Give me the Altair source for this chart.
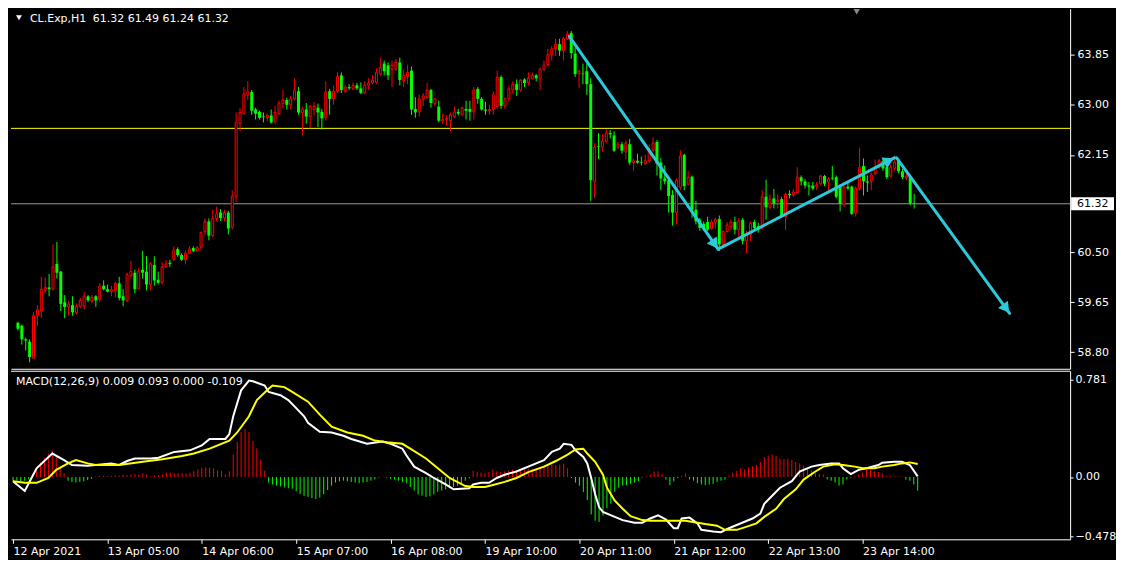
import math
import altair as alt
import pandas as pd

# ---------------- text ----------------
symbol_label = "CL.Exp,H1"
ohlc_label = "61.32 61.49 61.24 61.32"
macd_label = "MACD(12,26,9) 0.009 0.093 0.000 -0.109"
time_labels = ["12 Apr 2021", "13 Apr 05:00", "14 Apr 06:00", "15 Apr 07:00", "16 Apr 08:00",
               "19 Apr 10:00", "20 Apr 11:00", "21 Apr 12:00", "22 Apr 13:00", "23 Apr 14:00"]
time_label_bars = [0, 24, 48, 72, 96, 120, 144, 168, 192, 216]
price_ticks = [58.80, 59.65, 60.50, 62.15, 63.00, 63.85]
macd_ticks = [0.781, 0.0, -0.478]
level_yellow = 62.60
bid_price = 61.32

# ---------------- H1 candles ----------------
opens = [
    59.30, 59.25, 59.02, 58.98, 58.70, 59.42, 59.50, 59.85, 59.90, 59.87,
    60.30, 60.17, 59.65, 59.57, 59.60, 59.47, 59.58, 59.58, 59.75, 59.67,
    59.75, 59.70, 59.93, 59.87, 59.83, 59.85, 59.97, 59.75, 59.67, 60.10,
    60.15, 59.88, 60.20, 60.17, 59.95, 60.28, 60.03, 59.98, 60.25, 60.32,
    60.37, 60.55, 60.45, 60.37, 60.48, 60.57, 60.52, 60.58, 60.85, 61.02,
    60.78, 61.07, 61.17, 61.08, 61.17, 60.92, 61.45, 62.68, 62.85, 63.17,
    63.22, 62.92, 62.88, 62.80, 62.78, 62.82, 62.72, 62.85, 63.02, 63.08,
    63.00, 63.10, 63.23, 62.87, 62.92, 62.80, 62.92, 62.95, 62.88, 62.78,
    63.23, 63.10, 63.23, 63.50, 63.23, 63.30, 63.27, 63.33, 63.28, 63.20,
    63.33, 63.37, 63.38, 63.52, 63.70, 63.67, 63.60, 63.60, 63.72, 63.40,
    63.48, 63.58, 62.93, 62.88, 63.10, 63.12, 63.25, 63.02, 62.97, 62.73,
    62.75, 62.73, 62.80, 62.88, 62.83, 62.93, 62.93, 62.88, 63.27, 63.10,
    62.92, 62.90, 62.92, 62.97, 63.47, 62.98, 63.10, 63.25, 63.35, 63.25,
    63.43, 63.38, 63.45, 63.50, 63.45, 63.60, 63.68, 63.85, 63.95, 64.03,
    63.92, 64.12, 64.22, 63.87, 63.53, 63.53, 63.57, 63.35, 61.70, 62.30,
    62.28, 62.38, 62.52, 62.48, 62.28, 62.33, 62.20, 62.33, 62.02, 62.05,
    62.03, 62.00, 62.05, 62.23, 62.37, 62.02, 61.75, 61.72, 61.47, 61.17,
    61.60, 62.15, 61.65, 61.78, 61.22, 61.05, 60.98, 61.01, 60.90, 61.01,
    61.06, 60.63, 60.85, 60.93, 61.01, 60.88, 61.05, 60.69, 60.80, 61.01,
    60.94, 60.91, 61.44, 61.26, 61.41, 61.36, 61.40, 61.10, 61.49, 61.47,
    61.51, 61.77, 61.70, 61.63, 61.63, 61.61, 61.66, 61.79, 61.69, 61.76,
    61.77, 61.60, 61.30, 61.61, 61.61, 61.16, 61.58, 61.96, 61.70, 61.70,
    61.83, 61.94, 62.04, 61.94, 61.79, 61.92, 62.05, 61.87, 61.76, 61.77,
    61.32]
highs = [
    59.32, 59.27, 59.05, 59.02, 59.48, 59.60, 60.08, 60.07, 60.13, 60.63,
    60.67, 60.18, 59.77, 59.67, 59.75, 59.63, 59.72, 59.82, 59.77, 59.77,
    59.77, 59.97, 60.02, 59.95, 59.93, 60.00, 60.08, 59.87, 60.15, 60.35,
    60.20, 60.23, 60.52, 60.43, 60.33, 60.43, 60.17, 60.33, 60.37, 60.37,
    60.60, 60.58, 60.48, 60.53, 60.60, 60.60, 60.60, 60.85, 61.07, 61.07,
    61.22, 61.27, 61.23, 61.22, 61.20, 61.55, 62.87, 62.95, 63.30, 63.40,
    63.25, 62.95, 62.90, 62.87, 62.85, 62.92, 62.98, 63.07, 63.25, 63.12,
    63.15, 63.45, 63.30, 62.97, 63.03, 63.00, 63.05, 63.02, 62.93, 63.40,
    63.27, 63.33, 63.55, 63.55, 63.33, 63.35, 63.38, 63.37, 63.38, 63.40,
    63.45, 63.50, 63.62, 63.80, 63.75, 63.72, 63.75, 63.78, 63.80, 63.60,
    63.68, 63.65, 63.13, 63.17, 63.20, 63.37, 63.27, 63.12, 63.07, 62.85,
    62.82, 62.87, 62.97, 62.93, 62.97, 63.07, 63.07, 63.30, 63.30, 63.13,
    63.05, 63.00, 63.23, 63.58, 63.50, 63.13, 63.32, 63.40, 63.43, 63.43,
    63.45, 63.55, 63.55, 63.52, 63.63, 63.75, 63.95, 64.00, 64.12, 64.12,
    64.15, 64.25, 64.25, 63.97, 63.60, 63.70, 63.70, 63.45, 62.35, 62.52,
    62.50, 62.58, 62.57, 62.55, 62.37, 62.37, 62.40, 62.42, 62.08, 62.17,
    62.12, 62.15, 62.33, 62.45, 62.40, 62.10, 61.97, 61.80, 61.55, 61.75,
    62.23, 62.17, 61.88, 61.80, 61.37, 61.08, 61.02, 61.10, 61.05, 61.08,
    61.12, 60.87, 61.01, 61.05, 61.10, 61.08, 61.08, 60.86, 61.02, 61.05,
    61.00, 61.55, 61.73, 61.48, 61.57, 61.48, 61.44, 61.51, 61.55, 61.57,
    61.94, 61.80, 61.74, 61.69, 61.69, 61.69, 61.81, 61.81, 61.77, 61.96,
    61.80, 61.65, 61.63, 61.69, 61.63, 61.61, 62.27, 62.09, 61.80, 61.85,
    62.07, 62.08, 62.09, 61.97, 62.00, 62.14, 62.08, 61.91, 61.83, 61.80,
    61.49]
lows = [
    59.17, 58.93, 58.83, 58.63, 58.68, 59.25, 59.38, 59.80, 59.75, 59.85,
    60.05, 59.50, 59.38, 59.42, 59.42, 59.44, 59.55, 59.52, 59.65, 59.63,
    59.57, 59.65, 59.85, 59.82, 59.75, 59.73, 59.68, 59.58, 59.65, 60.05,
    59.80, 59.87, 60.05, 59.85, 59.85, 59.93, 59.95, 59.95, 60.23, 60.25,
    60.35, 60.42, 60.35, 60.30, 60.47, 60.50, 60.51, 60.53, 60.78, 60.70,
    60.75, 61.02, 61.03, 61.02, 60.80, 60.88, 61.35, 62.55, 62.83, 63.08,
    62.83, 62.75, 62.75, 62.70, 62.72, 62.68, 62.67, 62.83, 62.95, 62.92,
    62.92, 63.08, 62.83, 62.48, 62.68, 62.60, 62.82, 62.62, 62.58, 62.73,
    62.83, 63.00, 63.20, 63.20, 63.20, 63.25, 63.25, 63.25, 63.18, 63.18,
    63.25, 63.35, 63.35, 63.50, 63.50, 63.42, 63.30, 63.58, 63.33, 63.30,
    63.35, 62.83, 62.78, 62.80, 62.98, 63.10, 62.95, 62.98, 62.70, 62.68,
    62.65, 62.55, 62.78, 62.82, 62.82, 62.75, 62.73, 62.75, 63.02, 62.90,
    62.83, 62.83, 62.83, 62.93, 62.93, 62.93, 63.05, 63.20, 63.15, 63.22,
    63.30, 63.33, 63.43, 63.40, 63.25, 63.57, 63.65, 63.75, 63.83, 63.83,
    63.75, 64.10, 63.78, 63.47, 63.28, 63.35, 63.17, 61.37, 61.42, 62.08,
    62.20, 62.35, 62.43, 62.20, 62.25, 62.17, 62.08, 61.98, 61.88, 62.00,
    61.97, 61.98, 62.02, 62.20, 61.80, 61.55, 61.65, 61.17, 60.95, 60.97,
    61.55, 61.55, 61.63, 61.08, 60.97, 60.86, 60.86, 60.86, 60.88, 60.90,
    60.52, 60.61, 60.83, 60.88, 60.80, 60.75, 60.63, 60.48, 60.69, 60.86,
    60.83, 60.88, 61.05, 61.22, 61.24, 61.24, 61.08, 60.88, 61.41, 61.44,
    61.49, 61.63, 61.58, 61.46, 61.55, 61.55, 61.64, 61.62, 61.53, 61.72,
    61.41, 61.19, 61.27, 61.55, 61.13, 61.10, 61.55, 61.46, 61.52, 61.55,
    61.81, 61.91, 61.88, 61.74, 61.77, 61.88, 61.84, 61.74, 61.72, 61.29,
    61.24]
closes = [
    59.20, 59.02, 59.00, 58.72, 59.42, 59.52, 59.87, 59.90, 59.87, 60.25,
    60.15, 59.62, 59.57, 59.62, 59.48, 59.58, 59.68, 59.75, 59.68, 59.73,
    59.68, 59.92, 59.87, 59.83, 59.86, 59.97, 59.72, 59.68, 60.12, 60.17,
    59.87, 60.18, 60.15, 59.95, 60.30, 60.02, 59.98, 60.25, 60.30, 60.30,
    60.53, 60.45, 60.37, 60.48, 60.55, 60.52, 60.58, 60.83, 61.02, 60.78,
    61.07, 61.15, 61.08, 61.17, 60.90, 61.45, 62.70, 62.87, 63.18, 63.22,
    62.90, 62.85, 62.78, 62.79, 62.82, 62.70, 62.87, 63.03, 63.08, 63.00,
    63.10, 63.25, 62.87, 62.92, 62.80, 62.97, 62.97, 62.87, 62.77, 63.22,
    63.10, 63.23, 63.48, 63.25, 63.30, 63.28, 63.33, 63.28, 63.20, 63.33,
    63.37, 63.42, 63.55, 63.63, 63.57, 63.50, 63.67, 63.72, 63.42, 63.50,
    63.55, 62.92, 62.87, 63.10, 63.15, 63.25, 63.03, 63.10, 62.73, 62.75,
    62.77, 62.83, 62.88, 62.85, 62.95, 62.90, 62.88, 63.25, 63.10, 62.92,
    62.90, 62.92, 63.17, 63.47, 62.98, 63.10, 63.27, 63.35, 63.25, 63.42,
    63.37, 63.45, 63.50, 63.45, 63.60, 63.67, 63.85, 63.95, 64.03, 63.92,
    64.12, 64.20, 63.88, 63.52, 63.57, 63.52, 63.35, 61.72, 62.28, 62.29,
    62.38, 62.52, 62.50, 62.22, 62.33, 62.22, 62.35, 62.02, 62.05, 62.02,
    62.02, 62.05, 62.23, 62.35, 62.00, 61.75, 61.70, 61.45, 61.17, 61.72,
    62.13, 61.62, 61.77, 61.22, 61.02, 60.91, 60.90, 60.88, 61.01, 61.05,
    60.63, 60.85, 60.96, 61.01, 60.88, 61.03, 60.69, 60.80, 60.99, 60.91,
    60.88, 61.44, 61.26, 61.40, 61.33, 61.38, 61.10, 61.48, 61.47, 61.52,
    61.77, 61.70, 61.63, 61.61, 61.58, 61.64, 61.79, 61.66, 61.74, 61.75,
    61.44, 61.32, 61.60, 61.58, 61.15, 61.58, 61.94, 61.70, 61.68, 61.81,
    61.91, 62.05, 61.92, 61.77, 61.94, 62.03, 61.87, 61.77, 61.79, 61.33,
    61.32]

# ---------------- MACD(12,26,9) ----------------
macd_bar = [0, 3, 6, 10, 13, 15, 19, 25, 27, 29, 31, 35, 37, 41, 45, 48, 50, 54, 55, 56,
            58, 60, 61, 64, 65, 68, 70, 72, 74, 75, 78, 81, 84, 86, 90, 94, 96, 99, 100, 102,
            105, 107, 110, 112, 115, 116, 117, 119, 121, 123, 125, 128, 131, 135, 137, 139, 140, 142, 143, 145,
            146, 147, 148, 149, 150, 153, 155, 158, 160, 162, 164, 166, 168, 169, 170, 172, 174, 175, 178, 180,
            182, 184, 186, 188, 190, 191, 193, 195, 198, 200, 203, 205, 208, 210, 211, 213, 215, 217, 220, 221,
            224, 226, 228, 230]
macd_val = [-0.034, -0.112, 0.070, 0.188, 0.135, 0.096, 0.091, 0.109, 0.096, 0.128, 0.148, 0.148, 0.154, 0.201, 0.214, 0.253, 0.305, 0.305, 0.344, 0.487,
            0.695, 0.773, 0.768, 0.734, 0.682, 0.656, 0.617, 0.552, 0.487, 0.435, 0.362, 0.357, 0.331, 0.305, 0.266, 0.284, 0.266, 0.227, 0.174, 0.083,
            0.031, -0.008, -0.060, -0.099, -0.092, -0.091, -0.060, -0.047, -0.047, -0.008, 0.018, 0.044, 0.083, 0.135, 0.201, 0.227, 0.266, 0.258, 0.214, 0.161,
            0.109, -0.008, -0.138, -0.242, -0.281, -0.320, -0.346, -0.367, -0.367, -0.333, -0.307, -0.341, -0.411, -0.411, -0.333, -0.326, -0.372, -0.424, -0.438, -0.443,
            -0.411, -0.385, -0.359, -0.333, -0.294, -0.216, -0.151, -0.086, -0.034, 0.044, 0.083, 0.096, 0.109, 0.109, 0.070, 0.023, 0.057, 0.070, 0.096, 0.115,
            0.122, 0.122, 0.096, 0.005]
signal_bar = [0, 3, 6, 9, 11, 14, 16, 19, 21, 27, 33, 38, 43, 46, 50, 55, 57, 60, 62, 65,
              66, 69, 71, 75, 78, 81, 85, 89, 92, 95, 99, 101, 105, 108, 111, 115, 117, 120, 122, 125,
              128, 131, 135, 138, 141, 143, 145, 146, 148, 150, 151, 153, 155, 157, 160, 162, 165, 169, 171, 174,
              176, 179, 181, 184, 186, 189, 191, 194, 196, 199, 201, 204, 206, 209, 211, 214, 216, 219, 221, 224,
              226, 228, 230]
signal_val = [-0.034, -0.047, -0.047, -0.008, 0.057, 0.109, 0.135, 0.109, 0.096, 0.096, 0.122, 0.143, 0.169, 0.188, 0.227, 0.292, 0.357, 0.487, 0.617, 0.708,
              0.734, 0.721, 0.682, 0.604, 0.500, 0.404, 0.357, 0.331, 0.292, 0.279, 0.266, 0.227, 0.148, 0.070, -0.008, -0.073, -0.081, -0.081, -0.065, -0.039,
              -0.008, 0.039, 0.083, 0.128, 0.180, 0.221, 0.227, 0.188, 0.122, 0.018, -0.086, -0.190, -0.255, -0.315, -0.346, -0.352, -0.352, -0.352, -0.352, -0.367,
              -0.378, -0.391, -0.424, -0.424, -0.404, -0.372, -0.320, -0.255, -0.177, -0.099, -0.021, 0.044, 0.083, 0.102, 0.096, 0.083, 0.070, 0.070, 0.083, 0.096,
              0.109, 0.117, 0.104]
histogram = [
    -0.030, -0.030, -0.035, -0.030, -0.020, 0.020, 0.070, 0.115, 0.154, 0.188,
    0.213, 0.160, 0.070, 0.030, -0.030, -0.040, -0.045, -0.040, -0.035, -0.025,
    -0.015, 0.005, 0.008, 0.010, 0.008, 0.010, 0.012, 0.010, 0.020, 0.015,
    0.020, 0.025, 0.020, 0.030, 0.020, 0.005, 0.010, 0.015, 0.020, 0.035,
    0.035, 0.030, 0.030, 0.030, 0.025, 0.035, 0.050, 0.060, 0.075, 0.080,
    0.075, 0.070, 0.055, 0.050, 0.020, 0.045, 0.180, 0.280, 0.360, 0.385,
    0.360, 0.290, 0.230, 0.140, 0.050, -0.045, -0.060, -0.070, -0.075, -0.085,
    -0.090, -0.095, -0.115, -0.138, -0.151, -0.159, -0.169, -0.177, -0.165, -0.138,
    -0.105, -0.070, -0.045, -0.035, -0.030, -0.035, -0.040, -0.045, -0.050, -0.045,
    -0.040, -0.030, -0.020, -0.005, 0.003, -0.005, -0.015, -0.020, -0.030, -0.040,
    -0.050, -0.080, -0.110, -0.140, -0.150, -0.160, -0.155, -0.140, -0.120, -0.110,
    -0.100, -0.090, -0.080, -0.070, -0.050, -0.030, -0.010, 0.050, 0.040, 0.035,
    0.030, 0.040, 0.060, 0.045, 0.040, 0.045, 0.050, 0.060, 0.055, 0.060,
    0.070, 0.065, 0.065, 0.070, 0.080, 0.090, 0.090, 0.100, 0.095, 0.100,
    0.105, 0.070, -0.010, -0.045, -0.070, -0.120, -0.185, -0.300, -0.350, -0.360,
    -0.310, -0.250, -0.215, -0.120, -0.085, -0.070, -0.065, -0.055, -0.045, -0.035,
    -0.005, 0.005, 0.020, 0.045, 0.045, 0.025, -0.020, -0.065, -0.035, -0.010,
    0.010, 0.030, -0.020, -0.030, -0.050, -0.060, -0.065, -0.060, -0.055, -0.040,
    -0.030, -0.020, 0.010, 0.035, 0.050, 0.070, 0.060, 0.075, 0.085, 0.096,
    0.120, 0.160, 0.170, 0.180, 0.170, 0.145, 0.145, 0.145, 0.135, 0.120,
    0.110, 0.090, 0.070, 0.050, 0.030, 0.025, 0.020, -0.020, -0.030, -0.045,
    -0.070, -0.060, -0.020, -0.005, 0.005, 0.020, 0.035, 0.060, 0.055, 0.045,
    0.040, 0.030, 0.010, 0.010, 0.005, 0.005, 0.005, -0.020, -0.030, -0.060,
    -0.110]

# ---------------- trend arrows (bar index, price) ----------------
arrow_start_bar = [141.5, 179.7, 225.5]
arrow_start_price = [64.16, 60.55, 62.10]
arrow_end_bar = [179.7, 224.9, 254.5]
arrow_end_price = [60.55, 62.10, 59.46]

# ---------------- layout / style ----------------
W = 1062
H_PRICE = 361
H_MACD = 169
X_DOMAIN = [-0.5, 268.75]
P_DOMAIN = [58.52, 64.63]
M_DOMAIN = [-0.50, 0.852]
FONT = "DejaVu Sans"
CYAN = "#2CC9DA"
UP_COL = "#FF0000"
DN_COL = "#00FF00"
FRAME = "#FFFFFF"

xs = alt.Scale(domain=X_DOMAIN, nice=False, zero=False)
ps = alt.Scale(domain=P_DOMAIN, nice=False, zero=False)
ms = alt.Scale(domain=M_DOMAIN, nice=False, zero=False)

price_axis = alt.Axis(orient="right", values=price_ticks, format=".2f", tickSize=4, labelPadding=3,
                      minExtent=44, maxExtent=44, domain=True, domainColor=FRAME, grid=False, title=None,
                      labelColor="#FFFFFF", tickColor="#FFFFFF", labelFont=FONT, labelFontSize=11)
price_x_axis = alt.Axis(orient="bottom", labels=False, ticks=False, domain=True, domainColor=FRAME,
                        grid=False, title=None, minExtent=0, maxExtent=0)
macd_axis = alt.Axis(orient="right", values=macd_ticks, tickSize=3, labelPadding=2,
                     labelExpr="datum.value == 0 ? '0.00' : format(datum.value, '.3f')",
                     minExtent=44, maxExtent=44, domain=True, domainColor=FRAME, grid=False, title=None,
                     labelColor="#FFFFFF", tickColor="#FFFFFF", labelFont=FONT, labelFontSize=11)
labels_js = "[" + ",".join("'%s'" % s for s in time_labels) + "]"
time_axis = alt.Axis(orient="bottom", values=time_label_bars, labelExpr=labels_js + "[round(datum.value / 24)]",
                     labelAlign="left", tickSize=4, labelPadding=2, labelOverlap=False,
                     minExtent=20, maxExtent=20, domain=True, domainColor=FRAME, grid=False, title=None,
                     labelColor="#FFFFFF", tickColor="#FFFFFF", labelFont=FONT, labelFontSize=11)

# ---------------- price panel ----------------
cdf = pd.DataFrame({"bar": list(range(len(closes))), "open": opens, "high": highs,
                    "low": lows, "close": closes})
cdf["dir"] = ["up" if c > o else "down" for o, c in zip(opens, closes)]

XP = alt.X("bar:Q", scale=xs, axis=price_x_axis)

yellow_line = alt.Chart(pd.DataFrame({"price": [level_yellow]})).mark_rule(
    color="#FFFF00", strokeWidth=1).encode(y=alt.Y("price:Q", scale=ps, axis=price_axis))
bid_line = alt.Chart(pd.DataFrame({"price": [bid_price]})).mark_rule(
    color="#9A9A9A", strokeWidth=1).encode(y=alt.Y("price:Q", scale=ps, axis=price_axis))

wicks = alt.Chart(cdf).mark_rule(strokeWidth=1).encode(
    x=XP, y=alt.Y("low:Q", scale=ps, axis=price_axis), y2="high:Q",
    color=alt.Color("dir:N", scale=alt.Scale(domain=["up", "down"], range=[UP_COL, DN_COL]), legend=None))
up_bodies = alt.Chart(cdf).transform_filter("datum.dir == 'up'").mark_bar(
    size=2, fill="#000000", stroke=UP_COL, strokeWidth=1).encode(
    x=XP, y=alt.Y("open:Q", scale=ps, axis=price_axis), y2="close:Q")
dn_bodies = alt.Chart(cdf).transform_filter("datum.dir == 'down'").mark_bar(
    size=3, color=DN_COL).encode(
    x=XP, y=alt.Y("open:Q", scale=ps, axis=price_axis), y2="close:Q")

ppb = W / (X_DOMAIN[1] - X_DOMAIN[0])
ppp = H_PRICE / (P_DOMAIN[1] - P_DOMAIN[0])
heads = []
for x1, y1, x2, y2 in zip(arrow_start_bar, arrow_start_price, arrow_end_bar, arrow_end_price):
    dx = (x2 - x1) * ppb
    dy = -(y2 - y1) * ppp
    L = math.hypot(dx, dy)
    ang = math.degrees(math.atan2(dx, -dy)) % 360
    back = 6.0
    heads.append({"hx": x2 - dx / L * back / ppb, "hy": y2 + dy / L * back / ppp, "ang": ang})
adf = pd.DataFrame({"x1": arrow_start_bar, "y1": arrow_start_price,
                    "x2": arrow_end_bar, "y2": arrow_end_price})
hdf = pd.DataFrame(heads)

arrows = alt.Chart(adf).mark_rule(color=CYAN, strokeWidth=3, strokeCap="round").encode(
    x=alt.X("x1:Q", scale=xs, axis=price_x_axis), y=alt.Y("y1:Q", scale=ps, axis=price_axis),
    x2="x2:Q", y2="y2:Q")
arrow_heads = alt.Chart(hdf).mark_point(shape="triangle-up", filled=True, size=150,
                                        color=CYAN, opacity=1).encode(
    x=alt.X("hx:Q", scale=xs, axis=price_x_axis), y=alt.Y("hy:Q", scale=ps, axis=price_axis),
    angle=alt.Angle("ang:Q", scale=None))

bid_df = pd.DataFrame({"price": [bid_price], "label": ["%.2f" % bid_price]})
bid_box = alt.Chart(bid_df).transform_calculate(
    top="datum.price + %f" % (6.5 / ppp), bot="datum.price - %f" % (6.5 / ppp)).mark_rect(
    color="#FFFFFF").encode(x=alt.value(W + 1), x2=alt.value(W + 44),
                            y=alt.Y("top:Q", scale=ps, axis=price_axis), y2="bot:Q")
bid_text = alt.Chart(bid_df).mark_text(align="left", baseline="middle", font=FONT, fontSize=11,
                                       color="#000000").encode(
    x=alt.value(W + 7), y=alt.Y("price:Q", scale=ps, axis=price_axis), text="label:N")

title_tri = alt.Chart(pd.DataFrame({"k": [0]})).mark_point(
    shape="triangle-down", filled=True, size=35, color="#FFFFFF", opacity=1).encode(
    x=alt.value(8), y=alt.value(9))
title_sym = alt.Chart(pd.DataFrame({"t": [symbol_label]})).mark_text(
    align="left", baseline="middle", font=FONT, fontSize=11, color="#FFFFFF").encode(
    x=alt.value(19), y=alt.value(10), text="t:N")
title_ohlc = alt.Chart(pd.DataFrame({"t": [ohlc_label]})).mark_text(
    align="left", baseline="middle", font=FONT, fontSize=11, color="#FFFFFF").encode(
    x=alt.value(82), y=alt.value(10), text="t:N")
shift_mark = alt.Chart(pd.DataFrame({"k": [0]})).mark_point(
    shape="triangle-down", filled=True, size=40, color="#8A8A8A", opacity=1).encode(
    x=alt.value(848), y=alt.value(3))

price_panel = alt.layer(yellow_line, bid_line, wicks, up_bodies, dn_bodies, arrows, arrow_heads,
                        bid_box, bid_text, title_tri, title_sym, title_ohlc, shift_mark).properties(
    width=W, height=H_PRICE)

# ---------------- MACD panel ----------------
XM = alt.X("bar:Q", scale=xs, axis=time_axis)
hdf2 = pd.DataFrame({"bar": list(range(len(histogram))), "hist": histogram, "zero": 0.0})
hdf2["sign"] = ["pos" if v >= 0 else "neg" for v in histogram]
hist_rules = alt.Chart(hdf2).mark_rule(strokeWidth=1).encode(
    x=XM, y=alt.Y("zero:Q", scale=ms, axis=macd_axis), y2="hist:Q",
    color=alt.Color("sign:N", scale=alt.Scale(domain=["pos", "neg"], range=["#C8283C", "#1E6E1E"]), legend=None))
macd_line = alt.Chart(pd.DataFrame({"bar": macd_bar, "v": macd_val})).mark_line(
    color="#FFFFFF", strokeWidth=2).encode(x=XM, y=alt.Y("v:Q", scale=ms, axis=macd_axis))
signal_line = alt.Chart(pd.DataFrame({"bar": signal_bar, "v": signal_val})).mark_line(
    color="#FFFF00", strokeWidth=2).encode(x=XM, y=alt.Y("v:Q", scale=ms, axis=macd_axis))
macd_title = alt.Chart(pd.DataFrame({"t": [macd_label]})).mark_text(
    align="left", baseline="middle", font=FONT, fontSize=11, color="#FFFFFF").encode(
    x=alt.value(5), y=alt.value(11), text="t:N")
macd_top = alt.Chart(pd.DataFrame({"k": [0]})).mark_rule(color=FRAME, strokeWidth=1).encode(
    x=alt.value(0), x2=alt.value(W), y=alt.value(0.5))

macd_panel = alt.layer(hist_rules, macd_line, signal_line, macd_title, macd_top).properties(
    width=W, height=H_MACD)

chart = alt.vconcat(price_panel, macd_panel, spacing=2).properties(
    background="#000000", padding=0).configure_view(strokeWidth=0, stroke=None)

chart.save("out.html", embed_options={"renderer": "svg", "actions": False})
